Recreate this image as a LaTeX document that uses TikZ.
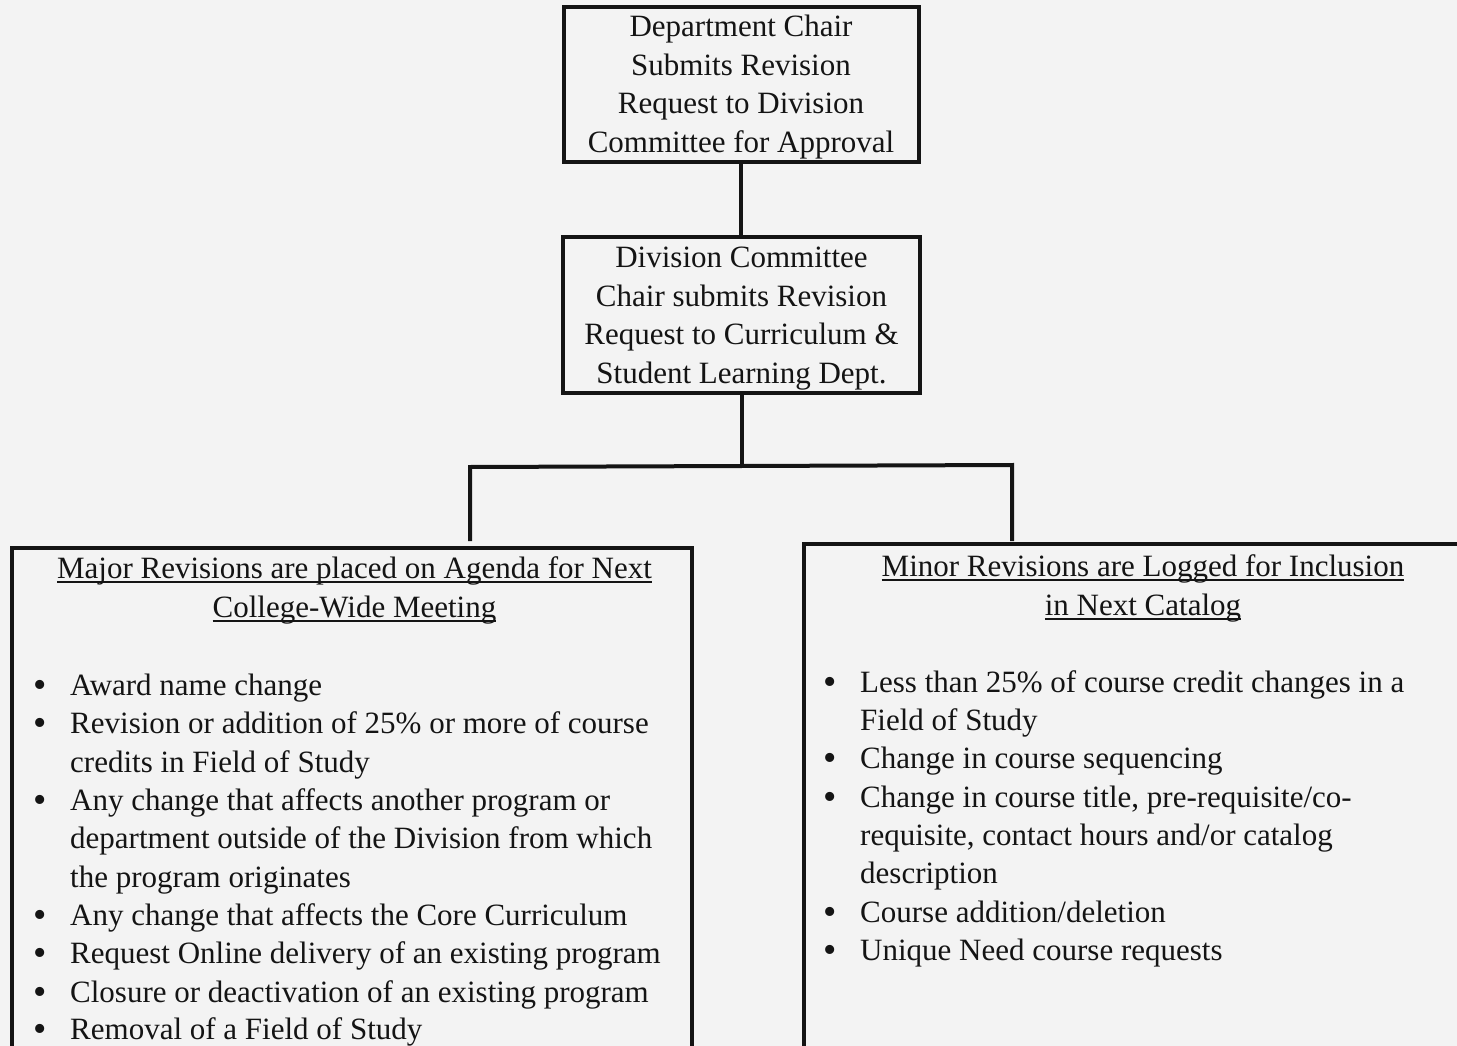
\documentclass[tikz,border=0pt]{standalone}
\usepackage{fontspec}
\setmainfont{Liberation Serif}
\definecolor{bg}{RGB}{243,243,243}
\definecolor{ink}{RGB}{20,20,20}
\newcommand\ulin[1]{\sbox0{#1}\rlap{\rule[-5pt]{\wd0}{1.8pt}}\usebox0}
\tikzset{
  boxnode/.style={draw=ink, line width=4pt, inner sep=0pt, line join=miter},
  txt/.style={font=\fontsize{31}{38.5}\selectfont, text=ink, inner sep=0pt},
  bul/.style={font=\fontsize{38}{38}\selectfont, text=ink, inner sep=0pt, anchor=base},
  conn/.style={draw=ink, line width=4pt, line join=miter},
}
\newcommand\tline[4]{\node[txt,anchor=#1] (#2) at #3 {#4};}
\begin{document}
\begin{tikzpicture}[x=1pt,y=-1pt]
\useasboundingbox (0,0) rectangle (1457,1046);
\clip (0,0) rectangle (1457,1046);
\fill[bg] (0,0) rectangle (1457,1046);

% boxes
\node[boxnode, minimum width=355pt, minimum height=155pt] (dept) at (741,84.5) {};
\node[boxnode, minimum width=357pt, minimum height=156pt] (div) at (741.5,315) {};
\node[boxnode, minimum width=680pt, minimum height=552pt] (major) at (352,824) {};
\node[boxnode, minimum width=680pt, minimum height=556pt] (minor) at (1144,822) {};

% connectors
\coordinate (j) at (741.5,466);
\coordinate (jl) at (470,467);
\coordinate (jr) at (1012,465);
\coordinate (lb) at (470,541);
\coordinate (rb) at (1012,541);
\draw[conn] (dept.south) -- (dept.south |- div.north);
\draw[conn] (div.south) -- (j);
\draw[conn] (lb) -- (jl) -- (jr) -- (rb);

% top box text
\tline{base}{d1}{(741,37)}{Department Chair}
\tline{base}{d2}{(741,76)}{Submits Revision}
\tline{base}{d3}{(741,114)}{Request to Division}
\tline{base}{d4}{(741,153)}{Committee for Approval}

% second box text
\tline{base}{v1}{(741.5,267)}{Division Committee}
\tline{base}{v2}{(741.5,306)}{Chair submits Revision}
\tline{base}{v3}{(741.5,344)}{Request to Curriculum \&}
\tline{base}{v4}{(741.5,383)}{Student Learning Dept.}

% major box
\tline{base}{mh1}{(354.5,578)}{\ulin{Major Revisions are placed on Agenda for Next}}
\tline{base}{mh2}{(354.5,617)}{\ulin{College-Wide Meeting}}
\foreach \y/\n in {695/1,733/2,810/3,925/4,963/5,1002/6,1039/7}{
  \node[bul] (mb\n) at (40,\y+2) {\smash{•}};
}
\tline{base west}{m1}{(70,695)}{Award name change}
\tline{base west}{m2}{(70,733)}{Revision or addition of 25\% or more of course}
\tline{base west}{m2b}{(70,772)}{credits in Field of Study}
\tline{base west}{m3}{(70,810)}{Any change that affects another program or}
\tline{base west}{m3b}{(70,848)}{department outside of the Division from which}
\tline{base west}{m3c}{(70,887)}{the program originates}
\tline{base west}{m4}{(70,925)}{Any change that affects the Core Curriculum}
\tline{base west}{m5}{(70,963)}{Request Online delivery of an existing program}
\tline{base west}{m6}{(70,1002)}{Closure or deactivation of an existing program}
\tline{base west}{m7}{(70,1039)}{Removal of a Field of Study}

% minor box
\tline{base}{nh1}{(1143,576)}{\ulin{Minor Revisions are Logged for Inclusion}}
\tline{base}{nh2}{(1143,615)}{\ulin{in Next Catalog}}
\foreach \y/\n in {692/1,768/2,807/3,922/4,960/5}{
  \node[bul] (nb\n) at (830,\y+2) {\smash{•}};
}
\tline{base west}{n1}{(860,692)}{Less than 25\% of course credit changes in a}
\tline{base west}{n1b}{(860,730)}{Field of Study}
\tline{base west}{n2}{(860,768)}{Change in course sequencing}
\tline{base west}{n3}{(860,807)}{Change in course title, pre-requisite/co-}
\tline{base west}{n3b}{(860,845)}{requisite, contact hours and/or catalog}
\tline{base west}{n3c}{(860,883)}{description}
\tline{base west}{n4}{(860,922)}{Course addition/deletion}
\tline{base west}{n5}{(860,960)}{Unique Need course requests}
\end{tikzpicture}
\end{document}
